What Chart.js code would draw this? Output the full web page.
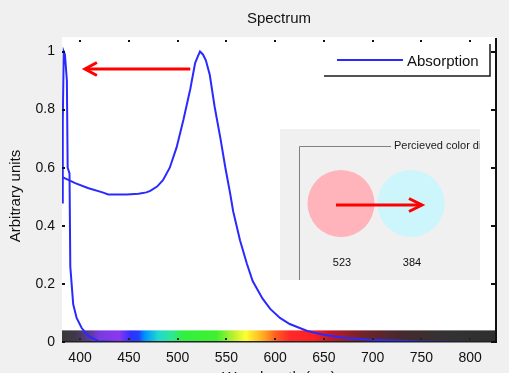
<!DOCTYPE html>
<html><head><meta charset="utf-8">
<script src="https://cdn.jsdelivr.net/npm/chart.js@4.4.0/dist/chart.umd.min.js"></script>
<style>html,body{margin:0;padding:0;background:#f0f0f0;}canvas{display:block;}</style>
</head><body>
<canvas id="c" width="509" height="373"></canvas>
<script>
// ---- data ----
const absWavelength = [381.5,395,408,423,429,448,460,468,472,479,485,492,499,506,513,518,521,523,526,529,533,538,544,549,554,557,564,571,577,587,595,605,615,633,650,670,697,750,800,826.5];
const absValue      = [0.568,0.547,0.53,0.515,0.508,0.508,0.51,0.515,0.52,0.535,0.557,0.60,0.67,0.765,0.87,0.96,0.985,1.0,0.99,0.97,0.92,0.81,0.70,0.60,0.51,0.45,0.35,0.27,0.21,0.15,0.114,0.083,0.062,0.038,0.025,0.015,0.008,0.002,0,0];
const edgeWavelength = [381.5,382.3,383.3,384.5,386.5,387.3,389.2,390,393,396.5,401.7,408.5,419,440,826.5];
const edgeValue      = [0.48,0.76,1.0,0.99,0.90,0.60,0.58,0.26,0.13,0.083,0.048,0.021,0.003,0,0];
const xTicks = [400,450,500,550,600,650,700,750,800];
const xTickLabels = ['400','450','500','550','600','650','700','750','800'];
const yTicks = [0,0.2,0.4,0.6,0.8,1];
const yTickLabels = ['0','0.2','0.4','0.6','0.8','1'];
const seriesName = 'Absorption';
const peakLabels = ['523','384'];
const perceivedColors = ['#ffb3ba','#ccf5fc'];
const stripWavelength = [381.5,395,410,420,440,452,460,466,480,495,505,540,558,570,590,600,615,640,656,690,730,780,826.5];
const stripColor = ['#383838','#403848','#5a3a98','#7a3ae0','#8a38f0','#3030ff','#2040ff','#0090ff','#20d8d0','#30e890','#30f040','#40f030','#c0f030','#ffff30','#ffa020','#ff6020','#ff2828','#ff2020','#c01828','#702428','#442a2e','#333333','#2e2e2e'];

Chart.defaults.font.family = "'Liberation Sans', Arial, sans-serif";
Chart.defaults.color = '#111';

function arrow(ctx, x1, y1, x2, y2, headLen, headHalf) {
  ctx.beginPath(); ctx.moveTo(x1, y1); ctx.lineTo(x2, y2); ctx.stroke();
  const dir = Math.sign(x2 - x1);
  ctx.beginPath();
  ctx.moveTo(x2 - dir * headLen, y2 - headHalf);
  ctx.lineTo(x2, y2);
  ctx.lineTo(x2 - dir * headLen, y2 + headHalf);
  ctx.stroke();
}

const deco = {
  id: 'deco',
  beforeDraw(chart) {
    const {ctx, chartArea: a} = chart;
    ctx.save();
    ctx.fillStyle = '#f0f0f0'; ctx.fillRect(0, 0, chart.width, chart.height);
    ctx.fillStyle = '#ffffff'; ctx.fillRect(a.left, a.top, a.right - a.left, a.bottom - a.top);
    ctx.restore();
  },
  beforeDatasetsDraw(chart) {
    const {ctx, chartArea: a, scales: {x, y}} = chart;
    ctx.save();
    const g = ctx.createLinearGradient(a.left, 0, a.right, 0);
    stripWavelength.forEach((w, i) => {
      const p = Math.min(1, Math.max(0, (x.getPixelForValue(w) - a.left) / (a.right - a.left)));
      g.addColorStop(p, stripColor[i]);
    });
    const top = y.getPixelForValue(0.04);
    ctx.fillStyle = g;
    ctx.fillRect(a.left, top, a.right - a.left, a.bottom - top);
    ctx.restore();
  },
  afterDraw(chart) {
    const {ctx, chartArea: a, scales: {x, y}} = chart;
    ctx.save();
    // y-axis title
    ctx.save();
    ctx.translate(16, 196);
    ctx.rotate(-Math.PI / 2);
    ctx.fillStyle = '#111'; ctx.font = "15px 'Liberation Sans', Arial, sans-serif";
    ctx.textAlign = 'center'; ctx.textBaseline = 'middle';
    ctx.fillText('Arbitrary units', 0, 0);
    ctx.restore();
    // frame
    ctx.fillStyle = '#222';
    ctx.fillRect(a.left, a.bottom - 1, a.right - a.left + 1, 1.5);
    ctx.fillStyle = '#111';
    ctx.fillRect(a.right - 1, a.top + 1, 2, a.bottom - a.top);
    // ticks
    xTicks.forEach(v => {
      const px = Math.round(x.getPixelForValue(v));
      ctx.fillStyle = '#111';
      ctx.fillRect(px - 1, a.top + 3, 2, 2);
      ctx.fillStyle = '#222';
      ctx.fillRect(px - 1, a.bottom - 4, 2, 2);
    });
    yTicks.forEach(v => {
      const py = Math.round(y.getPixelForValue(v));
      ctx.fillStyle = '#111';
      ctx.fillRect(a.left, py - 1, 3, 2);
      ctx.fillRect(a.right - 5, py - 1, 5, 2);
    });
    // legend
    const ds = chart.data.datasets[0];
    ctx.fillStyle = '#fff';
    ctx.fillRect(324, 44, 166, 32);
    ctx.strokeStyle = '#1a1a1a'; ctx.lineWidth = 1.5;
    ctx.beginPath(); ctx.moveTo(324, 76); ctx.lineTo(490, 76); ctx.lineTo(490, 44); ctx.stroke();
    ctx.strokeStyle = ds.borderColor; ctx.lineWidth = 2;
    ctx.beginPath(); ctx.moveTo(337, 60); ctx.lineTo(403, 60); ctx.stroke();
    ctx.fillStyle = '#111'; ctx.font = "15px 'Liberation Sans', Arial, sans-serif";
    ctx.textBaseline = 'middle'; ctx.textAlign = 'left';
    ctx.fillText(ds.label, 407, 62);
    // main arrow
    ctx.strokeStyle = '#ff0000'; ctx.lineWidth = 3; ctx.lineCap = 'butt';
    const ay = y.getPixelForValue(0.94);
    arrow(ctx, x.getPixelForValue(513), ay, x.getPixelForValue(405), ay, 12, 6.5);
    // inset
    ctx.fillStyle = '#f0f0f0';
    ctx.fillRect(280, 129, 200, 151);
    ctx.save();
    ctx.beginPath(); ctx.rect(280, 129, 200, 151); ctx.clip();
    ctx.strokeStyle = '#808080'; ctx.lineWidth = 1;
    ctx.beginPath(); ctx.moveTo(299.5, 290); ctx.lineTo(299.5, 146.5); ctx.lineTo(391, 146.5); ctx.stroke();
    ctx.fillStyle = '#1a1a1a'; ctx.font = "11px 'Liberation Sans', Arial, sans-serif";
    ctx.textAlign = 'left'; ctx.textBaseline = 'middle';
    ctx.fillText('Percieved color display', 394, 146);
    ctx.restore();
    const centers = [341, 411];
    centers.forEach((cx, i) => {
      ctx.fillStyle = perceivedColors[i];
      ctx.beginPath(); ctx.arc(cx, 203.5, 33.5, 0, Math.PI * 2); ctx.fill();
      ctx.fillStyle = '#111'; ctx.font = "11px 'Liberation Sans', Arial, sans-serif";
      ctx.textAlign = 'center'; ctx.textBaseline = 'middle';
      ctx.fillText(peakLabels[i], cx + 1, 263);
    });
    ctx.strokeStyle = '#ff0000'; ctx.lineWidth = 3;
    arrow(ctx, 336, 205, 422, 205, 13, 6.5);
    ctx.restore();
  }
};

const lineStyle = {borderColor: '#2a2aff', borderWidth: 2, pointRadius: 0, tension: 0, fill: false};

new Chart(document.getElementById('c'), {
  type: 'line',
  data: {
    datasets: [
      Object.assign({label: seriesName, data: absWavelength.map((w, i) => ({x: w, y: absValue[i]}))}, lineStyle),
      Object.assign({label: seriesName + ' (edge)', data: edgeWavelength.map((w, i) => ({x: w, y: edgeValue[i]}))}, lineStyle)
    ]
  },
  options: {
    responsive: false, animation: false, devicePixelRatio: 1,
    layout: {padding: {left: 0, right: 13, top: 0, bottom: 0}},
    plugins: {
      legend: {display: false}, tooltip: {enabled: false},
      title: {display: true, text: 'Spectrum', fullSize: false, color: '#111',
        font: {size: 15, weight: 'normal'}, padding: {top: 10, bottom: 9}}
    },
    scales: {
      x: {
        type: 'linear', min: 381.5, max: 826.5,
        afterBuildTicks(s) { s.ticks = xTicks.map(v => ({value: v})); },
        afterFit(s) { s.height = 31; },
        grid: {display: false, drawTicks: false}, border: {display: false},
        ticks: {padding: 8, color: '#111', font: {size: 14}, maxRotation: 0, autoSkip: false,
          callback: (v, i) => xTickLabels[i]},
        title: {display: true, text: 'Wavelength (nm)', color: '#111', font: {size: 15}, padding: {top: 0, bottom: -14}}
      },
      y: {
        min: 0, max: 1.05,
        afterBuildTicks(s) { s.ticks = yTicks.map(v => ({value: v})); },
        afterFit(s) { s.width = 62; },
        grid: {display: false, drawTicks: false}, border: {display: false},
        ticks: {padding: 7, color: '#111', font: {size: 14}, autoSkip: false,
          callback: (v, i) => yTickLabels[i]},
        title: {display: false}
      }
    }
  },
  plugins: [deco]
});
</script>
</body></html>
